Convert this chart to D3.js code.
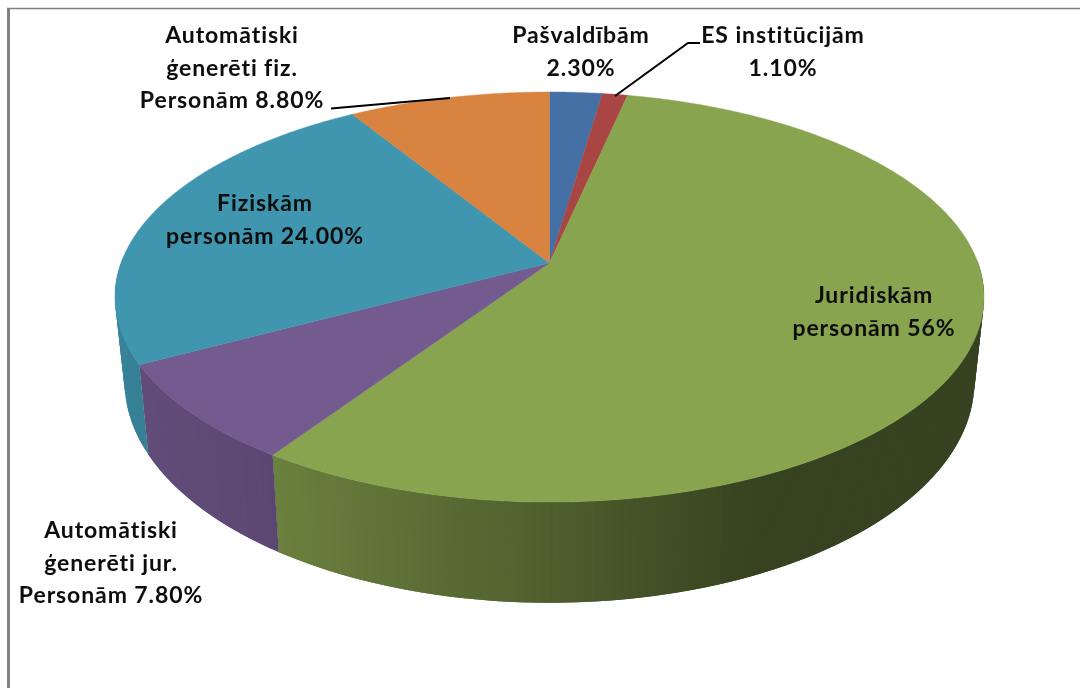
<!DOCTYPE html>
<html lang="lv">
<head>
<meta charset="utf-8">
<script src="https://cdn.jsdelivr.net/npm/d3@7"></script>
<style>
html,body{margin:0;padding:0;background:#fff;overflow:hidden}
svg{display:block}
text{font-family:Lato,"Open Sans",sans-serif;font-weight:700;font-size:23px;letter-spacing:0.9px;fill:#0b0b0b;text-anchor:middle}
</style>
</head>
<body>
<div id="chart"></div>
<script>
// ---- data ----
const categories = ["Pašvaldībām","ES institūcijām","Juridiskām personām","Automātiski ģenerēti jur. Personām","Fiziskām personām","Automātiski ģenerēti fiz. Personām"];
const shares = [2.3, 1.1, 56, 7.8, 24, 8.8];
const colours = ["#4470a5","#a94644","#88a44f","#735a8f","#4095af","#d8833f"];
const labelLines = [
  ["Pašvaldībām","2.30%"],
  ["ES institūcijām","1.10%"],
  ["Juridiskām","personām 56%"],
  ["Automātiski","ģenerēti jur.","Personām 7.80%"],
  ["Fiziskām","personām 24.00%"],
  ["Automātiski","ģenerēti fiz.","Personām 8.80%"]
];
const labelCentres = [[581,43],[783,43],[874,303],[111,538],[265,211],[232,43]];

// ---- projection of the tilted disc ----
const W = 1080, H = 688, cx = 549.5, tilt = 0.166, lineStep = 32.5;
const topPlane = {y0:263, a:199.4, b:428.5};
const basePlane = {y0:345, a:215, b:419};
function project(plane, angle){
  const u = Math.sin(angle), v = Math.cos(angle), d = 1 + tilt*v;
  return [cx + plane.b*u/d, plane.y0 - plane.a*v/d];
}
const shade = d3.scaleLinear().domain([-1,-0.6,0,0.42,1]).range([0.88,0.8,0.58,0.4,0.4]).clamp(true);

const pieData = d3.pie().sort(null).value(d=>d)(shares);
const stepAngle = Math.PI/180;
const svg = d3.select("#chart").append("svg").attr("width",W).attr("height",H);

const defs = svg.append("defs");
defs.append("filter").attr("id","soft").attr("x","-5%").attr("y","-5%").attr("width","110%").attr("height","110%")
  .append("feGaussianBlur").attr("stdDeviation",0.45);

// frame
svg.append("line").attr("x1",7).attr("x2",W).attr("y1",8.5).attr("y2",8.5).attr("stroke","#808080").attr("stroke-width",1.6);
svg.append("line").attr("x1",8.5).attr("x2",8.5).attr("y1",8).attr("y2",H).attr("stroke","#808080").attr("stroke-width",3);

// side wall: only the front half shows. Strips overlap the next one so no seams appear;
// the wall runs right-to-left and left-to-right towards the front so overlaps stay hidden.
const wallLayer = svg.append("g");
pieData.forEach((s,i)=>{
  const n = Math.max(1,Math.ceil((s.endAngle-s.startAngle)/stepAngle));
  const angles = d3.range(n+1).map(k=>s.startAngle+(s.endAngle-s.startAngle)*k/n);
  d3.pairs(angles).forEach(([a0,a1],j)=>{
    const mid = (a0+a1)/2;
    if (Math.cos(mid) > 0.02) return;
    const a2 = j < n-1 ? a1 + (a1-a0) : a1;   // reach under the following strip
    const pts = [project(topPlane,a0),project(topPlane,a2),project(basePlane,a2),project(basePlane,a0)];
    const c = d3.rgb(colours[i]);
    const k = shade(Math.sin(mid));
    const fill = d3.rgb(c.r*k,c.g*k,c.b*k).formatHex();
    wallLayer.append("path").attr("d",d3.line()(pts)+"Z").attr("fill",fill);
  });
});

// top face
const faceLayer = svg.append("g");
pieData.forEach((s,i)=>{
  const n = Math.max(2,Math.ceil((s.endAngle-s.startAngle)/(stepAngle/2)));
  const rim = d3.range(n+1).map(k=>project(topPlane,s.startAngle+(s.endAngle-s.startAngle)*k/n));
  const pts = [[cx,topPlane.y0],...rim];
  faceLayer.append("path").attr("d",d3.line()(pts)+"Z").attr("fill",colours[i]).attr("stroke",colours[i]).attr("stroke-width",0.4);
});

// leader lines
const leaders = [
  [[615,96],[688,43],[700,43]],
  [[331,108.6],[450,98]]
];
svg.append("g").selectAll("path").data(leaders).join("path")
  .attr("d",d3.line()).attr("fill","none").attr("stroke","#000").attr("stroke-width",2);

// labels
const labelLayer = svg.append("g").attr("filter","url(#soft)");
labelLines.forEach((lines,i)=>{
  lines.forEach((t,j)=>{
    labelLayer.append("text").attr("x",labelCentres[i][0]).attr("y",labelCentres[i][1]+j*lineStep).text(t);
  });
});
</script>
</body>
</html>
